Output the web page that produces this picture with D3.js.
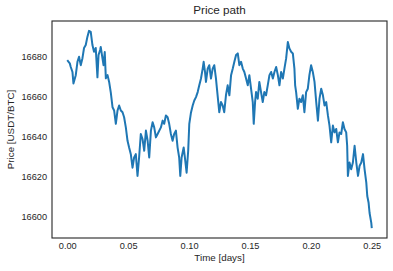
<!DOCTYPE html>
<html>
<head>
<meta charset="utf-8">
<script src="https://cdn.jsdelivr.net/npm/d3@7"></script>
<style>
  html, body { margin: 0; padding: 0; background: #fff; }
  svg { display: block; font-family: "Liberation Sans", Arial, sans-serif; }
</style>
</head>
<body>
<svg id="chart" width="393" height="271"></svg>
<script>
const title = "Price path";
const xLabel = "Time [days]";
const yLabel = "Price [USDT/BTC]";
const xTicks = [0.00, 0.05, 0.10, 0.15, 0.20, 0.25];
const yTicks = [16600, 16620, 16640, 16660, 16680];

const time = [
  0.0000, 0.0021, 0.0029, 0.0043, 0.0051, 0.0070, 0.0084, 0.0097, 0.0111, 0.0125,
  0.0138, 0.0152, 0.0166, 0.0179, 0.0193, 0.0207, 0.0220, 0.0234, 0.0248, 0.0257,
  0.0270, 0.0275, 0.0289, 0.0298, 0.0308, 0.0317, 0.0331, 0.0344, 0.0358, 0.0372,
  0.0385, 0.0399, 0.0413, 0.0426, 0.0440, 0.0454, 0.0467, 0.0481, 0.0495, 0.0508,
  0.0522, 0.0536, 0.0549, 0.0563, 0.0577, 0.0590, 0.0604, 0.0618, 0.0632, 0.0646,
  0.0660, 0.0673, 0.0687, 0.0701, 0.0714, 0.0728, 0.0742, 0.0769, 0.0783, 0.0796,
  0.0810, 0.0824, 0.0837, 0.0851, 0.0865, 0.0878, 0.0892, 0.0906, 0.0919, 0.0928,
  0.0939, 0.0956, 0.0966, 0.0980, 0.0993, 0.1002, 0.1016, 0.1030, 0.1043, 0.1057,
  0.1071, 0.1084, 0.1098, 0.1112, 0.1120, 0.1131, 0.1139, 0.1153, 0.1166, 0.1180,
  0.1194, 0.1207, 0.1221, 0.1229, 0.1240, 0.1248, 0.1262, 0.1276, 0.1289, 0.1303,
  0.1317, 0.1331, 0.1345, 0.1359, 0.1372, 0.1386, 0.1400, 0.1413, 0.1427, 0.1441,
  0.1454, 0.1468, 0.1482, 0.1495, 0.1509, 0.1523, 0.1531, 0.1542, 0.1550, 0.1564,
  0.1577, 0.1591, 0.1605, 0.1618, 0.1632, 0.1646, 0.1660, 0.1674, 0.1688, 0.1701,
  0.1715, 0.1729, 0.1742, 0.1756, 0.1770, 0.1783, 0.1797, 0.1811, 0.1824, 0.1838,
  0.1852, 0.1865, 0.1871, 0.1879, 0.1893, 0.1906, 0.1920, 0.1934, 0.1947, 0.1961,
  0.1975, 0.1988, 0.2002, 0.2016, 0.2030, 0.2044, 0.2058, 0.2071, 0.2085, 0.2099,
  0.2112, 0.2126, 0.2140, 0.2153, 0.2167, 0.2181, 0.2194, 0.2208, 0.2222, 0.2235,
  0.2249, 0.2263, 0.2276, 0.2290, 0.2298, 0.2304, 0.2317, 0.2331, 0.2345, 0.2359,
  0.2373, 0.2387, 0.2400, 0.2414, 0.2428, 0.2441, 0.2455, 0.2463, 0.2474, 0.2482,
  0.2496, 0.2500
];

const price = [
  16678.2, 16676.6, 16674.8, 16672.3, 16666.5, 16670.7, 16677.4, 16679.9, 16675.7, 16679.2,
  16684.3, 16685.8, 16690.0, 16692.9, 16692.4, 16685.8, 16682.4, 16684.3, 16669.6, 16680.8,
  16683.3, 16684.8, 16679.2, 16675.7, 16682.3, 16669.1, 16670.7, 16667.3, 16661.8, 16654.6,
  16653.0, 16646.3, 16653.0, 16655.5, 16653.0, 16652.1, 16649.6, 16644.5, 16637.8, 16634.4,
  16631.1, 16624.3, 16629.4, 16631.1, 16620.2, 16629.4, 16641.2, 16638.7, 16632.8, 16642.9,
  16637.8, 16629.4, 16642.9, 16647.1, 16644.5, 16639.5, 16641.2, 16644.5, 16647.9, 16646.3,
  16650.5, 16649.6, 16646.3, 16641.2, 16637.8, 16641.2, 16642.9, 16634.4, 16629.4, 16620.2,
  16629.4, 16634.4, 16629.4, 16621.8, 16632.8, 16646.3, 16652.0, 16655.5, 16658.0, 16659.7,
  16662.2, 16665.6, 16669.0, 16674.0, 16677.4, 16672.3, 16667.3, 16674.0, 16675.7, 16669.0,
  16674.0, 16675.7, 16669.0, 16663.9, 16657.2, 16652.1, 16657.2, 16655.5, 16652.1, 16660.6,
  16665.6, 16660.6, 16670.7, 16674.0, 16677.4, 16680.8, 16681.6, 16675.7, 16677.4, 16674.0,
  16672.3, 16669.0, 16665.6, 16670.7, 16663.9, 16657.2, 16646.3, 16657.2, 16662.2, 16658.9,
  16667.3, 16662.2, 16657.2, 16662.2, 16660.6, 16665.6, 16670.7, 16672.3, 16669.0, 16672.3,
  16674.8, 16670.7, 16665.6, 16672.3, 16669.0, 16674.0, 16679.1, 16687.3, 16684.1, 16682.4,
  16681.6, 16674.0, 16665.6, 16662.2, 16653.8, 16658.9, 16657.2, 16660.6, 16652.1, 16662.2,
  16663.9, 16670.7, 16675.7, 16672.3, 16667.3, 16657.2, 16647.9, 16658.9, 16663.9, 16660.6,
  16655.5, 16657.2, 16650.5, 16645.4, 16637.0, 16645.4, 16642.0, 16643.7, 16637.0, 16642.0,
  16641.2, 16647.1, 16643.7, 16642.0, 16635.3, 16620.2, 16626.9, 16623.5, 16626.9, 16635.3,
  16626.9, 16620.2, 16625.2, 16626.9, 16631.1, 16623.5, 16616.8, 16610.1, 16606.7, 16601.6,
  16596.6, 16594.0
];

const data = time.map((t, i) => ({ t, p: price[i] }));

const svg = d3.select("#chart");
const box = { left: 52, top: 21, right: 387, bottom: 238 };
const textColor = "#262626";

const tExt = d3.extent(time);
const tPad = (tExt[1] - tExt[0]) * 0.05;
const pExt = d3.extent(price);
const pPad = (pExt[1] - pExt[0]) * 0.05;

const x = d3.scaleLinear().domain([tExt[0] - tPad, tExt[1] + tPad]).range([box.left, box.right]);
const y = d3.scaleLinear().domain([pExt[0] - pPad, pExt[1] + pPad]).range([box.bottom, box.top]);

// line
svg.append("path")
  .datum(data)
  .attr("fill", "none")
  .attr("stroke", "#1f77b4")
  .attr("stroke-width", 2)
  .attr("stroke-linejoin", "round")
  .attr("d", d3.line().x(d => x(d.t)).y(d => y(d.p)));

// frame
svg.append("rect")
  .attr("x", box.left).attr("y", box.top)
  .attr("width", box.right - box.left).attr("height", box.bottom - box.top)
  .attr("fill", "none").attr("stroke", textColor).attr("stroke-width", 1.1);

// axes
const xAxis = d3.axisBottom(x).tickValues(xTicks).tickFormat(d3.format(".2f")).tickSize(0).tickPadding(4);
const yAxis = d3.axisLeft(y).tickValues(yTicks).tickFormat(d3.format("d")).tickSize(0).tickPadding(5);

const gx = svg.append("g").attr("transform", `translate(0,${box.bottom})`).call(xAxis);
const gy = svg.append("g").attr("transform", `translate(${box.left},0)`).call(yAxis);
[gx, gy].forEach(g => {
  g.select(".domain").remove();
  g.selectAll("text").attr("fill", textColor).style("font-size", "9.2px").style("font-family", "Liberation Sans, Arial, sans-serif");
});

// title and labels
svg.append("text")
  .attr("x", (box.left + box.right) / 2).attr("y", 14)
  .attr("text-anchor", "middle").attr("fill", textColor)
  .style("font-size", "11.7px").text(title);

svg.append("text")
  .attr("x", (box.left + box.right) / 2).attr("y", 261)
  .attr("text-anchor", "middle").attr("fill", textColor)
  .style("font-size", "9.8px").text(xLabel);

svg.append("text")
  .attr("transform", `translate(14,${(box.top + box.bottom) / 2}) rotate(-90)`)
  .attr("text-anchor", "middle").attr("fill", textColor)
  .style("font-size", "9.8px").text(yLabel);
</script>
</body>
</html>
